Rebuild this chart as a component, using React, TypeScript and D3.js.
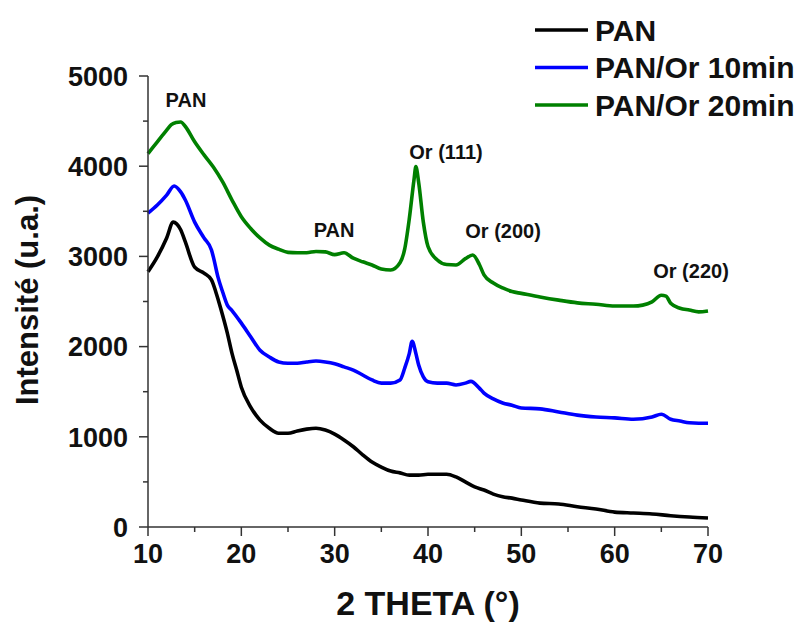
import React from "react";
import * as d3 from "d3";

const xTicks = [10, 20, 30, 40, 50, 60, 70];
const yTicks = [0, 1000, 2000, 3000, 4000, 5000];

const panData: [number, number][] = [
  [10, 2830], [11, 2995], [12, 3205], [12.7, 3380], [13.5, 3295], [14, 3160], [15, 2880],
  [16, 2815], [16.8, 2740], [17.3, 2595], [17.8, 2420], [18.5, 2150], [19, 1925],
  [19.5, 1740], [20, 1550], [21, 1330], [22, 1185], [23, 1095], [24, 1040], [25, 1040],
  [26, 1065], [27, 1085], [28, 1095], [29, 1075], [30, 1030], [31, 965], [32, 890],
  [33, 800], [34, 720], [35, 665], [36, 620], [37, 600], [38, 575], [39, 575], [40, 585],
  [41, 585], [42, 585], [43, 555], [44, 500], [45, 445], [46, 410], [47, 365], [48, 335],
  [49, 320], [50, 300], [52, 265], [54, 255], [56, 225], [58, 200], [60, 165], [62, 155],
  [64, 145], [66, 125], [68, 110], [70, 100],
];

const pan10Data: [number, number][] = [
  [10, 3480], [11, 3570], [12, 3680], [12.8, 3780], [13.5, 3715], [14, 3625], [15, 3380],
  [16, 3205], [16.8, 3070], [17, 2995], [17.5, 2770], [18, 2605], [18.5, 2460], [19, 2400],
  [20, 2260], [21, 2110], [22, 1960], [23, 1885], [24, 1830], [25, 1815], [26, 1815],
  [27, 1830], [28, 1840], [29, 1830], [30, 1810], [31, 1775], [32, 1740], [33, 1685],
  [34, 1630], [35, 1595], [36, 1595], [37, 1630], [37.5, 1760], [38, 1925], [38.3, 2060],
  [38.7, 1925], [39, 1795], [39.5, 1665], [40, 1610], [41, 1595], [42, 1595], [43, 1575],
  [44, 1595], [44.6, 1615], [45.5, 1540], [46, 1485], [47, 1420], [48, 1375], [49, 1350],
  [50, 1320], [52, 1310], [54, 1275], [56, 1240], [58, 1220], [60, 1210], [62, 1195],
  [64, 1220], [65, 1250], [66, 1195], [67, 1175], [68, 1155], [69, 1150], [70, 1150],
];

const pan20Data: [number, number][] = [
  [10, 4140], [11, 4270], [12, 4400], [12.5, 4460], [13, 4485], [13.5, 4490], [14, 4440],
  [15, 4270], [16, 4125], [17, 3990], [18, 3825], [19, 3625], [20, 3440], [21, 3310],
  [22, 3205], [23, 3125], [24, 3080], [25, 3045], [26, 3040], [27, 3040], [28, 3055],
  [29, 3050], [30, 3020], [31, 3040], [32, 2980], [33, 2940], [34, 2905], [35, 2860],
  [36, 2850], [37, 2930], [37.5, 3080], [38, 3420], [38.5, 3850], [38.7, 3995], [39, 3820],
  [39.5, 3380], [40, 3110], [41, 2960], [42, 2910], [43, 2905], [44, 2975], [44.8, 3015],
  [45.5, 2910], [46, 2795], [47, 2705], [48, 2650], [49, 2610], [50, 2590], [52, 2550],
  [54, 2515], [56, 2485], [58, 2470], [60, 2450], [62, 2450], [63, 2460], [64, 2495],
  [65, 2570], [65.5, 2560], [66, 2480], [67, 2425], [68, 2405], [69, 2385], [70, 2395],
];

const seriesNames = ["PAN", "PAN/Or 10min", "PAN/Or 20min"];
const seriesColors = ["#000000", "#0000ff", "#008000"];
const seriesData = [panData, pan10Data, pan20Data];

const annotations: { label: string; x: number; y: number }[] = [
  { label: "PAN", x: 14.07, y: 4656 },
  { label: "PAN", x: 29.93, y: 3215 },
  { label: "Or (111)", x: 41.93, y: 4080 },
  { label: "Or (200)", x: 48.04, y: 3204 },
  { label: "Or (220)", x: 68.18, y: 2760 },
];

const FONT = "'Liberation Sans', Arial, sans-serif";

export default function App() {
  const W = 798, H = 622;
  const x = d3.scaleLinear().domain([10, 70]).range([148, 708]);
  const y = d3.scaleLinear().domain([0, 5000]).range([527, 76]);
  const line = d3
    .line<[number, number]>()
    .x((d) => x(d[0]))
    .y((d) => y(d[1]))
    .curve(d3.curveMonotoneX);

  const xMinor = d3.range(15, 70, 10);
  const yMinor = d3.range(500, 5000, 1000);
  const axisColor = "#333";

  return (
    <svg width={W} height={H} style={{ position: "absolute", left: 0, top: 0, background: "#fff" }} fontFamily={FONT}>
      {seriesData.map((d, i) => (
        <path key={i} d={line(d) || ""} fill="none" stroke={seriesColors[i]} strokeWidth={3.6} strokeLinejoin="round" />
      ))}

      <line x1={x(10)} x2={x(10)} y1={y(0)} y2={y(5000)} stroke={axisColor} strokeWidth={1.5} />
      <line x1={x(10)} x2={x(70)} y1={y(0)} y2={y(0)} stroke={axisColor} strokeWidth={1.5} />
      {yTicks.map((t) => (
        <g key={"yt" + t}>
          <line x1={x(10) - 9} x2={x(10)} y1={y(t)} y2={y(t)} stroke={axisColor} strokeWidth={1.5} />
          <text x={128} y={y(t)} dy="0.36em" textAnchor="end" fontSize={27} fontWeight="bold" fill="#111">
            {t}
          </text>
        </g>
      ))}
      {yMinor.map((t) => (
        <line key={"ym" + t} x1={x(10) - 5} x2={x(10)} y1={y(t)} y2={y(t)} stroke={axisColor} strokeWidth={1.5} />
      ))}
      {xTicks.map((t) => (
        <g key={"xt" + t}>
          <line x1={x(t)} x2={x(t)} y1={y(0)} y2={y(0) + 9} stroke={axisColor} strokeWidth={1.5} />
          <text x={x(t)} y={563} textAnchor="middle" fontSize={27} fontWeight="bold" fill="#111">
            {t}
          </text>
        </g>
      ))}
      {xMinor.map((t) => (
        <line key={"xm" + t} x1={x(t)} x2={x(t)} y1={y(0)} y2={y(0) + 5} stroke={axisColor} strokeWidth={1.5} />
      ))}

      <text x={428} y={615} textAnchor="middle" fontSize={34} fontWeight="bold" fill="#111">
        2 THETA (°)
      </text>
      <text transform="translate(38,300) rotate(-90)" textAnchor="middle" fontSize={31} fontWeight="bold" fill="#111">
        Intensité (u.a.)
      </text>

      {annotations.map((a, i) => (
        <text key={"an" + i} x={x(a.x)} y={y(a.y)} textAnchor="middle" fontSize={20} fontWeight="bold" fill="#111">
          {a.label}
        </text>
      ))}

      {seriesNames.map((n, i) => (
        <g key={"lg" + i} transform={`translate(0, ${30 + i * 37.5})`}>
          <line x1={535} x2={588} y1={0} y2={0} stroke={seriesColors[i]} strokeWidth={3.5} />
          <text x={595} y={0} dy="0.36em" fontSize={30} fontWeight="bold" fill="#111">
            {n}
          </text>
        </g>
      ))}
    </svg>
  );
}
